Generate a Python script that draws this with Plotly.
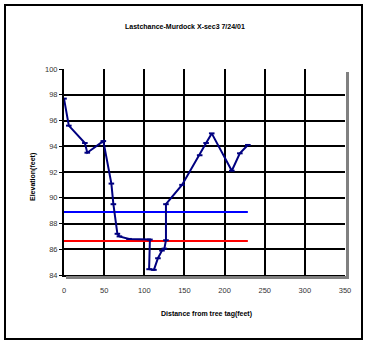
import plotly.graph_objects as go

# Cross-section survey data (distance from tree tag, elevation)
distance_ft = [0, 6, 26, 29, 49, 59, 61.5, 66.5, 69, 81, 107, 106, 112, 117, 122, 125, 127,
               127, 147, 169, 177, 184, 209, 219, 229]
elevation_ft = [97.7, 95.6, 94.25, 93.5, 94.4, 91.1, 89.5, 87.2, 87.0, 86.8, 86.75, 84.45, 84.4,
                85.3, 85.9, 86.05, 86.7, 89.5, 91.0, 93.3, 94.25, 95.0, 92.1, 93.45, 94.1]

# Horizontal reference lines
blue_line_x = [0, 229]
blue_line_y = [88.9, 88.9]
red_line_x = [0, 229]
red_line_y = [86.65, 86.65]

x_ticks = [0, 50, 100, 150, 200, 250, 300, 350]
y_ticks = [84, 86, 88, 90, 92, 94, 96, 98, 100]

title_text = "Lastchance-Murdock X-sec3 7/24/01"
x_title = "Distance from tree tag(feet)"
y_title = "Elevation(feet)"

FONT = "Liberation Sans, Arial, sans-serif"

fig = go.Figure()
fig.add_trace(go.Scatter(x=blue_line_x, y=blue_line_y, mode="lines",
                         line=dict(color="#0000FF", width=2), hoverinfo="skip"))
fig.add_trace(go.Scatter(x=red_line_x, y=red_line_y, mode="lines",
                         line=dict(color="#FF0000", width=2), hoverinfo="skip"))
fig.add_trace(go.Scatter(x=distance_ft, y=elevation_ft, mode="lines+markers",
                         line=dict(color="#000080", width=2),
                         marker=dict(symbol="line-ew", size=4,
                                     line=dict(color="#000080", width=2))))

W, H = 365, 344
L, R, T, B = 64, 20, 69, 69
pw, ph = W - L - R, H - T - B

fig.update_layout(
    width=W, height=H, autosize=False,
    margin=dict(l=L, r=R, t=T, b=B, pad=0),
    paper_bgcolor="white", plot_bgcolor="white",
    showlegend=False,
    font=dict(family=FONT, size=7, color="#222"),
    xaxis=dict(range=[0, 350], tickvals=x_ticks, showgrid=True, gridcolor="black",
               gridwidth=2, showline=True, linecolor="black", linewidth=2,
               ticks="", zeroline=False, ticklabelstandoff=7,
               tickfont=dict(size=7.5, color="#333")),
    yaxis=dict(range=[84, 100], tickvals=y_ticks, showgrid=True, gridcolor="black",
               gridwidth=2, showline=True, linecolor="black", linewidth=2, mirror=False,
               ticks="outside", ticklen=3, tickwidth=1, tickcolor="black",
               zeroline=False, tickfont=dict(size=7.5, color="#333")),
    annotations=[
        dict(text="<b>" + title_text + "</b>", xref="paper", yref="paper",
             x=(185 - L) / pw, y=1 + (T - 26) / ph, showarrow=False,
             xanchor="center", yanchor="middle", font=dict(size=7, color="black")),
        dict(text="<b>" + x_title + "</b>", xref="paper", yref="paper",
             x=(206 - L) / pw, y=-(314 - (H - B)) / ph, showarrow=False,
             xanchor="center", yanchor="middle", font=dict(size=7, color="black")),
        dict(text="<b>" + y_title + "</b>", xref="paper", yref="paper",
             x=(33 - L) / pw, y=1 - (177 - T) / ph, showarrow=False, textangle=-90,
             xanchor="center", yanchor="middle", font=dict(size=7, color="black")),
    ],
    shapes=[
        # plot area shadow (right and bottom)
        dict(type="rect", xref="paper", yref="paper", x0=1 + 1 / pw, x1=1 + 4 / pw,
             y0=-4 / ph, y1=1 - 3 / ph, fillcolor="#808080", line=dict(width=0)),
        dict(type="rect", xref="paper", yref="paper", x0=2 / pw, x1=1 + 4 / pw,
             y0=-4 / ph, y1=-1 / ph, fillcolor="#808080", line=dict(width=0)),
        # outer chart border
        dict(type="rect", xref="paper", yref="paper",
             x0=(5 - L) / pw, x1=(362 - L) / pw,
             y0=-(339 - (H - B)) / ph, y1=1 + (T - 5) / ph,
             line=dict(color="black", width=2), fillcolor="rgba(0,0,0,0)"),
    ],
)

fig.write_html("out.html", config={"displayModeBar": False},
               post_script="document.body.style.margin='0';document.body.style.overflow='hidden';")
